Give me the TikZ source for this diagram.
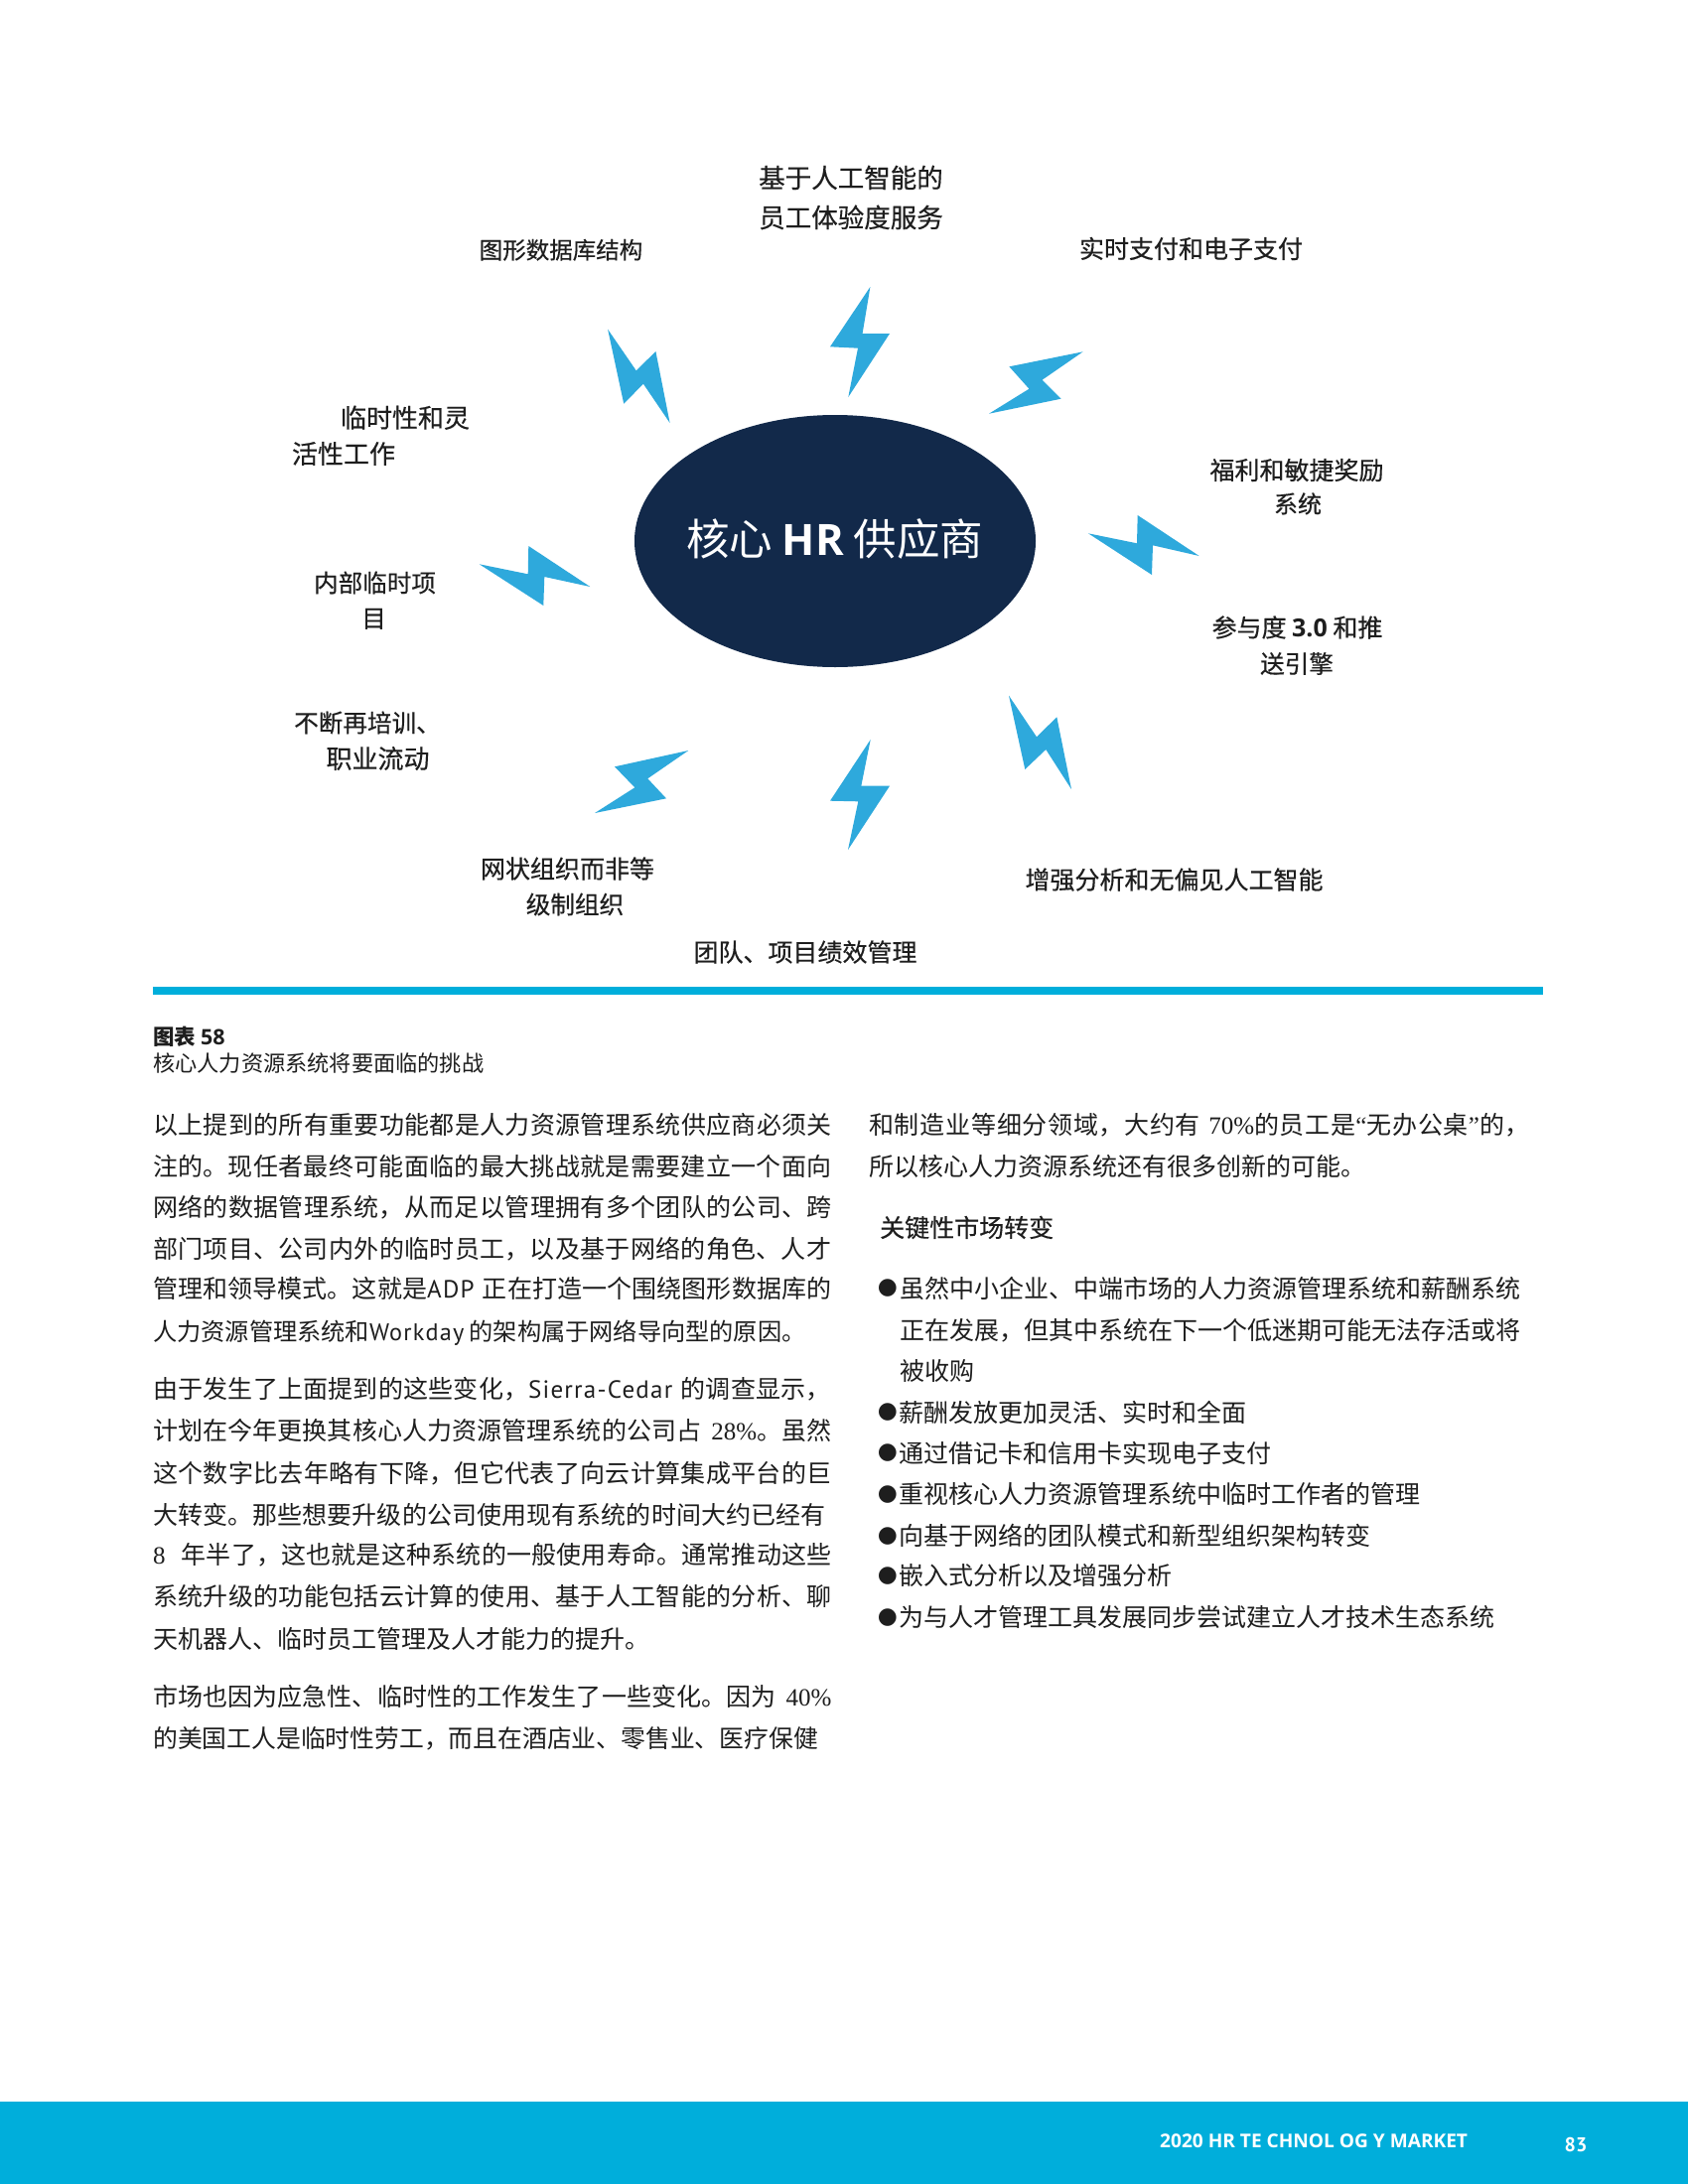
\documentclass[tikz,border=0pt]{standalone}
\usepackage{fontspec}
\usetikzlibrary{shapes.geometric}
\setmainfont{Noto Sans CJK SC}
\newfontfamily\lblf[FakeBold=0.4]{Noto Sans CJK SC}
\newfontfamily\serf{Liberation Serif}
\newfontfamily\latf[LetterSpace=5]{PT Sans}
\newfontfamily\pagef{PT Sans}
\newfontfamily\ossb{Open Sans}
\newfontfamily\dejav{DejaVu Sans}
\definecolor{navy}{HTML}{12294A}
\definecolor{boltblue}{HTML}{2EA9DC}
\definecolor{band}{HTML}{00AEDB}
\definecolor{ink}{HTML}{1E1E1E}
\XeTeXlinebreaklocale "zh"
\XeTeXlinebreakskip=0pt plus 3pt
\tikzset{
  bolt/.style={fill=boltblue,draw=none},
  lbl/.style={inner sep=0pt,text=ink,font=\lblf},
  bodyplain/.style={inner sep=0pt,anchor=base west,text=ink,font=\fontsize{25}{25}\selectfont},
  bodyfull/.style={bodyplain,execute at begin node={\parfillskip=0pt\relax\tolerance=10000\hbadness=10000\hyphenpenalty=10000\relax}},
  bulletmark/.style={inner sep=0pt,anchor=center,text=ink,font=\dejav\fontsize{23}{23}\selectfont}
}
% name, x, centre y, width, text
\newcommand\bodyj[5]{\pgfmathsetmacro\yy{#3+9.5}\node[bodyfull,text width=#4pt] (#1) at (#2,\yy) {#5};}
% name, x, centre y, text
\newcommand\bodyn[4]{\pgfmathsetmacro\yy{#3+9.5}\node[bodyplain] (#1) at (#2,\yy) {#4};}
% name, centre x, centre y, size, text
\newcommand\lab[5]{\pgfmathsetmacro\yy{#3+0.38*#4}\node[lbl,anchor=base] (#1) at (#2,\yy) {\fontsize{#4}{#4}\selectfont #5};}
\newcommand\serd[1]{{\serf #1}}
\newcommand\latn[1]{{\latf #1}}
\begin{document}
\begin{tikzpicture}[x=1pt,y=-1pt]
\useasboundingbox (0,0) rectangle (1700,2200);
\fill[white] (0,0) rectangle (1700,2200);

% central ellipse
\node[ellipse,fill=navy,minimum width=404pt,minimum height=254pt,inner sep=0pt] (core) at (841,545) {};
\node[inner sep=0pt,anchor=base,text=white,font=\fontsize{43.5}{43.5}\selectfont] (coretxt) at (840.5,559.5) {核心 {\ossb\bfseries HR} 供应商};

% bolts
\fill[bolt] (876.4,289)--(836,349.3)--(864,350.7)--(854.3,400)--(896,336)--(868.6,336)--cycle;
\fill[bolt] (612.1,331.7)--(628.2,406.7)--(647.9,386.7)--(674.6,426)--(660.4,354)--(640.7,373.3)--cycle;
\fill[bolt] (1090.7,354.3)--(1016.4,369.3)--(1036.4,391.7)--(996,416.7)--(1068.6,401.7)--(1049.6,382.7)--cycle;
\fill[bolt] (1096,537.3)--(1160,579)--(1161,549.3)--(1207.7,560)--(1145.7,519)--(1145,547.3)--cycle;
\fill[bolt] (1016,700.7)--(1032.3,775)--(1053.3,755)--(1079,795)--(1064.3,722.3)--(1044,742.3)--cycle;
\fill[bolt] (876.7,745)--(836,806.7)--(864.3,807.3)--(854,856)--(896,791.7)--(867.3,791.7)--cycle;
\fill[bolt] (693.3,756)--(619,772.3)--(639.3,793.3)--(599,819)--(671,804.3)--(652.3,784.3)--cycle;
\fill[bolt] (482.7,568.3)--(547.3,610)--(548.3,581)--(594.3,591)--(532.3,550)--(531.7,578.3)--cycle;

% diagram labels
\lab{a1}{857}{179}{26.5}{基于人工智能的}
\lab{a2}{857}{219}{26.5}{员工体验度服务}
\lab{b1}{565}{251.7}{23.5}{图形数据库结构}
\lab{c1}{1199.5}{250.5}{25}{实时支付和电子支付}
\lab{d1}{408}{420.7}{26}{临时性和灵}
\lab{d2}{346}{457}{26}{活性工作}
\lab{e1}{1306}{473.5}{25}{福利和敏捷奖励}
\lab{e2}{1307}{507.5}{24}{系统}
\lab{f1}{377.5}{587}{24.6}{内部临时项}
\lab{f2}{376.5}{622.7}{24.6}{目}
\lab{g1}{1306.5}{632}{25}{参与度 {\ossb\bfseries 3.0} 和推}
\lab{g2}{1306}{668.5}{24.6}{送引擎}
\lab{h1}{370}{728}{24.6}{不断再培训、}
\lab{h2}{380.5}{764}{26}{职业流动}
\lab{i1}{571.5}{875}{25}{网状组织而非等}
\lab{i2}{579}{911}{24.6}{级制组织}
\lab{j1}{1182.5}{886}{25}{增强分析和无偏见人工智能}
\lab{k1}{811}{959}{25}{团队、项目绩效管理}

% rule and caption
\fill[band] (154,994) rectangle (1554,1002);
\node[inner sep=0pt,anchor=base west,text=ink,font=\fontsize{21.5}{21.5}\bfseries\selectfont] (cap1) at (154,1052) {图表 {\ossb 58}};
\node[inner sep=0pt,anchor=base west,text=ink,font=\fontsize{22.2}{22.2}\selectfont] (cap2) at (154,1079.5) {核心人力资源系统将要面临的挑战};

% left column
\bodyj{l1}{154}{1133}{689}{以上提到的所有重要功能都是人力资源管理系统供应商必须关}
\bodyj{l2}{154}{1175}{689}{注的。现任者最终可能面临的最大挑战就是需要建立一个面向}
\bodyj{l3}{154}{1216}{689}{网络的数据管理系统，从而足以管理拥有多个团队的公司、跨}
\bodyj{l4}{154}{1258}{689}{部门项目、公司内外的临时员工，以及基于网络的角色、人才}
\bodyj{l5}{154}{1298}{685}{管理和领导模式。这就是\latn{ADP} 正在打造一个围绕图形数据库的}
\bodyn{l6}{154}{1341}{{\fontsize{24.2}{24.2}\selectfont 人力资源管理系统和\latn{Workday} 的架构属于网络导向型的原因。}}
\bodyj{l7}{154}{1399.4}{686}{由于发生了上面提到的这些变化，\latn{Sierra-Cedar} 的调查显示，}
\bodyj{l8}{154}{1441.4}{685}{计划在今年更换其核心人力资源管理系统的公司占\hspace{10pt}\serd{28\%}。虽然}
\bodyj{l9}{154}{1483.9}{689}{这个数字比去年略有下降，但它代表了向云计算集成平台的巨}
\bodyj{l10}{154}{1526}{679}{大转变。那些想要升级的公司使用现有系统的时间大约已经有}
\bodyj{l11}{154}{1566.4}{687}{\serd{8}\hspace{16pt}年半了，这也就是这种系统的一般使用寿命。通常推动这些}
\bodyj{l12}{154}{1608.4}{689}{系统升级的功能包括云计算的使用、基于人工智能的分析、聊}
\bodyn{l13}{154}{1650.9}{天机器人、临时员工管理及人才能力的提升。}
\bodyj{l14}{154}{1709.4}{685}{市场也因为应急性、临时性的工作发生了一些变化。因为\hspace{10pt}\serd{40\%}}
\bodyn{l15}{154}{1751.4}{{\fontsize{24.8}{24.8}\selectfont 的美国工人是临时性劳工，而且在酒店业、零售业、医疗保健}}

% right column
\bodyj{r1}{875}{1133}{678}{和制造业等细分领域，大约有 \serd{70\%}的员工是{\serf “}无办公桌{\serf ”}的，}
\bodyn{r2}{875}{1175}{所以核心人力资源系统还有很多创新的可能。}
\node[inner sep=0pt,anchor=base west,text=ink,font=\lblf\fontsize{25}{25}\selectfont] (rh) at (886,1246) {关键性市场转变};
\node[bulletmark] (m1) at (894,1298) {●};
\bodyj{r3}{906}{1298}{626}{虽然中小企业、中端市场的人力资源管理系统和薪酬系统}
\bodyj{r4}{906}{1340}{626}{正在发展，但其中系统在下一个低迷期可能无法存活或将}
\bodyn{r5}{906}{1381}{被收购}
\node[bulletmark] (m2) at (894,1423) {●};
\bodyn{r6}{905}{1423}{薪酬发放更加灵活、实时和全面}
\node[bulletmark] (m3) at (894,1464) {●};
\bodyn{r7}{905}{1464}{通过借记卡和信用卡实现电子支付}
\node[bulletmark] (m4) at (894,1505.4) {●};
\bodyn{r8}{905}{1505.4}{重视核心人力资源管理系统中临时工作者的管理}
\node[bulletmark] (m5) at (894,1547.4) {●};
\bodyn{r9}{905}{1547.4}{向基于网络的团队模式和新型组织架构转变}
\node[bulletmark] (m6) at (894,1587.4) {●};
\bodyn{r10}{905}{1587.4}{嵌入式分析以及增强分析}
\node[bulletmark] (m7) at (894,1629.4) {●};
\bodyn{r11}{905}{1629.4}{为与人才管理工具发展同步尝试建立人才技术生态系统}

% footer
\fill[band] (0,2117) rectangle (1700,2200);
\node[inner sep=0pt,anchor=base west,text=white,font=\ossb\bfseries\fontsize{19.1}{19.1}\selectfont] (ft) at (1168,2163.5) {2020 HR TE CHNOL OG Y MARKET};
\node[inner sep=0pt,anchor=base,text=white,font=\pagef\bfseries\fontsize{20}{20}\selectfont] (pg) at (1587,2167) {83};
\end{tikzpicture}
\end{document}
